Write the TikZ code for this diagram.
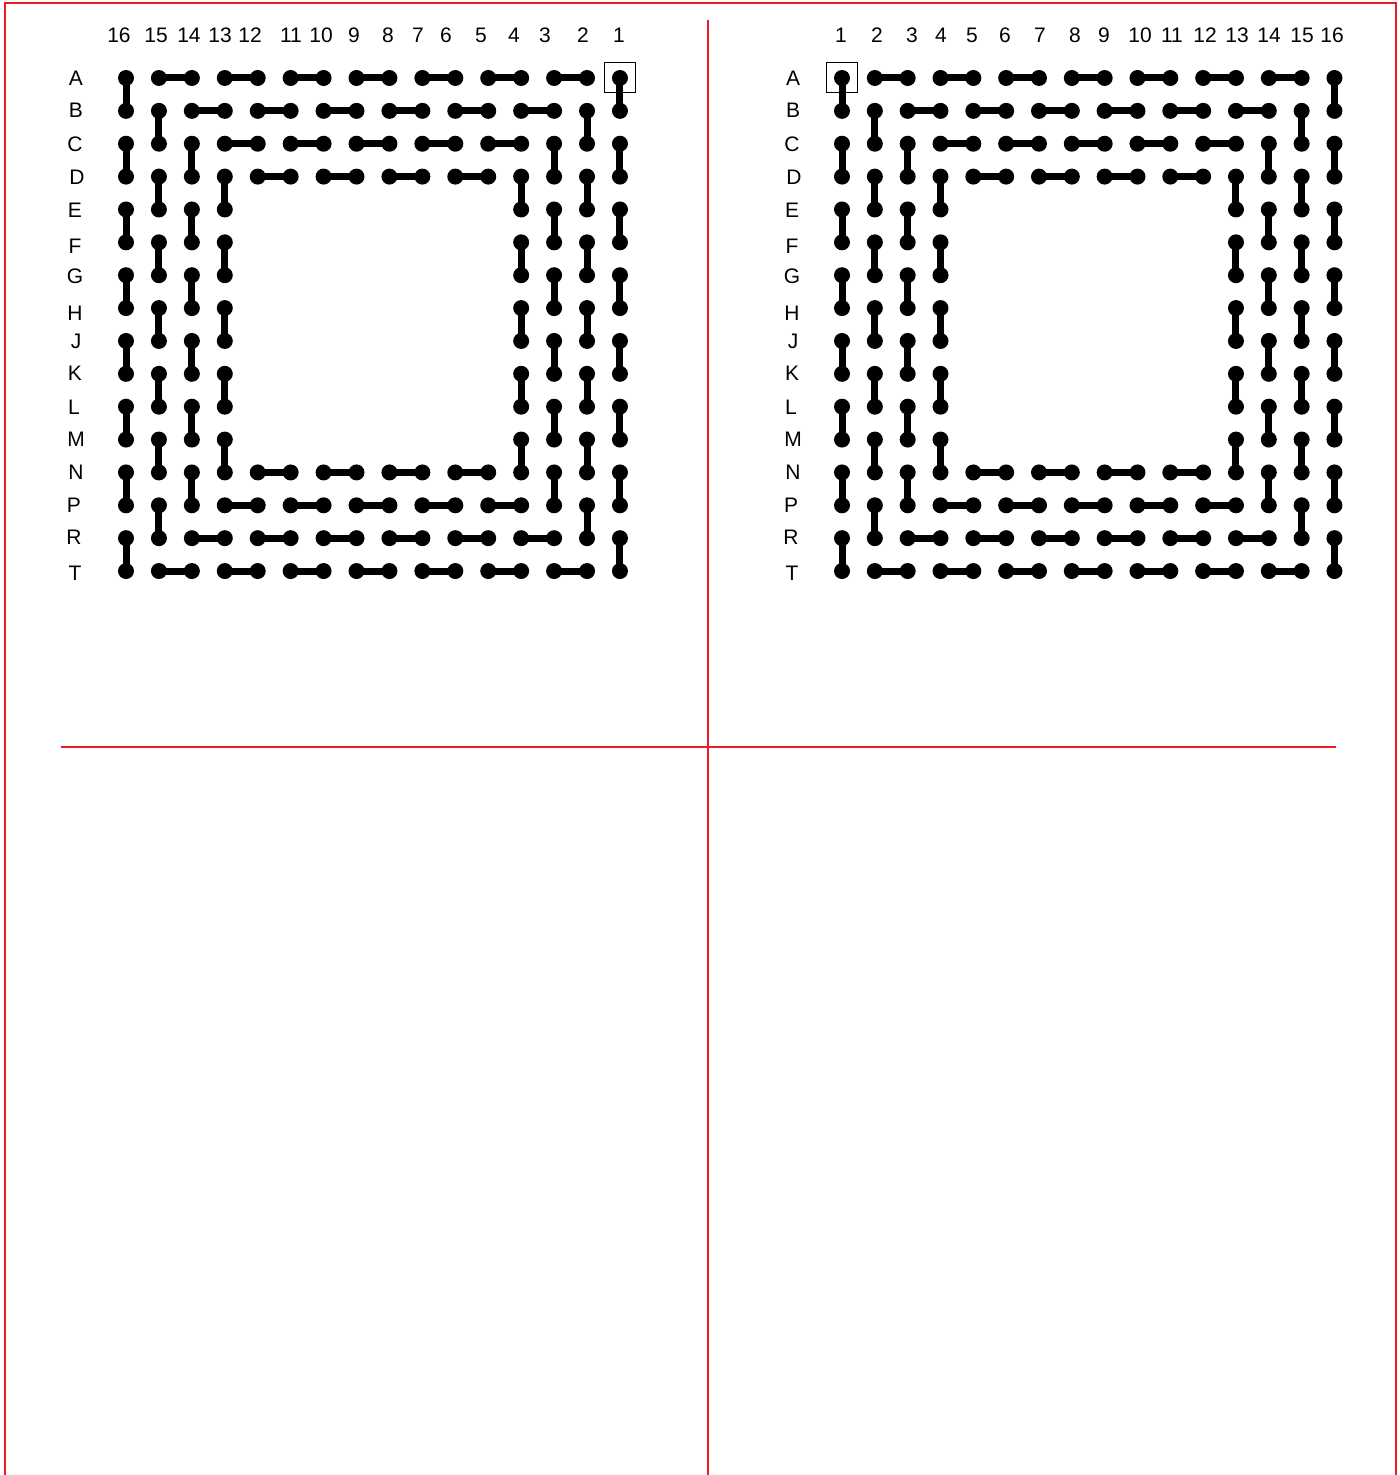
\documentclass[tikz,border=0pt]{standalone}
\usepackage{fontspec}
\setmainfont{Liberation Sans}
\definecolor{framered}{RGB}{237,28,36}
\tikzset{
  ball/.style={circle,fill=black,inner sep=0pt,minimum size=8pt},
  link/.style={line width=3.5pt,black},
  lbl/.style={font=\fontsize{10.5}{12}\selectfont,inner sep=0pt,anchor=center},
  redline/.style={draw=framered,line width=1.1pt},
  redmid/.style={draw=framered,line width=1.35pt},
  hlbox/.style={draw=black,line width=0.5pt,minimum width=15.5pt,minimum height=15pt,inner sep=0pt},
}
% prefix, x0, dx, r1, c1, r2, c2
\newcommand\mkpair[7]{%
  \node[ball] (#1-#4-#5) at ({#2+#3*#5},{78+32.87*#4}) {};
  \node[ball] (#1-#6-#7) at ({#2+#3*#7},{78+32.87*#6}) {};
  \draw[link] (#1-#4-#5.center) -- (#1-#6-#7.center);
}
% prefix, x0, dx
\newcommand\mkpanel[3]{%
  \foreach \rk in {0,...,3}{
    \pgfmathtruncatemacro\nv{7-\rk}
    \pgfmathtruncatemacro\rkk{15-\rk}
    \pgfmathtruncatemacro\nh{6-\rk}
    \foreach \j in {0,...,\nv}{
      \pgfmathtruncatemacro\pA{\rk+2*\j}
      \pgfmathtruncatemacro\pB{\pA+1}
      \mkpair{#1}{#2}{#3}{\pA}{\rk}{\pB}{\rk}
      \mkpair{#1}{#2}{#3}{\pA}{\rkk}{\pB}{\rkk}
    }
    \foreach \j in {0,...,\nh}{
      \pgfmathtruncatemacro\pA{\rk+1+2*\j}
      \pgfmathtruncatemacro\pB{\pA+1}
      \mkpair{#1}{#2}{#3}{\rk}{\pA}{\rk}{\pB}
      \mkpair{#1}{#2}{#3}{\rkk}{\pA}{\rkk}{\pB}
    }
  }
}
\begin{document}
\begin{tikzpicture}[x=0.5pt,y=-0.5pt]
\useasboundingbox (0,0) rectangle (1399,1475);
% red frame and dividers
\draw[redline] (5,1475) -- (5,3) -- (1396,3) -- (1396,1475);
\draw[redline] (708,20) -- (708,1475);
\draw[redmid] (61,747) -- (1336,747);
% panels
\mkpanel{L}{126}{32.93}
\mkpanel{R}{842}{32.83}
% highlighted pins
\node[hlbox] (boxL) at (L-0-15) {};
\node[hlbox] (boxR) at (R-0-0) {};
% column labels
\foreach \t/\x in {16/119,15/156,14/189,13/220,12/250,11/291,10/321,9/354,8/388,7/418,6/446,5/481,4/514,3/545,2/583,1/619}
  \node[lbl] (lc\t) at (\x,35) {\t};
\foreach \t/\x in {1/841,2/877,3/912,4/941,5/972,6/1005,7/1040,8/1075,9/1104,10/1140,11/1172,12/1205,13/1237,14/1269,15/1302,16/1332}
  \node[lbl] (rc\t) at (\x,35) {\t};
% row labels
\foreach \t/\x/\y in {A/76/78,B/76/110,C/75/144,D/77/177,E/75/210,F/75/246,G/75/276,H/75/313,J/76/341,K/75/373,L/74/407,M/76/439,N/76/472,P/74/505,R/74/537,T/75/573}{
  \node[lbl] (lr\t) at (\x,\y) {\t};
  \node[lbl] (rr\t) at (\x+717,\y) {\t};
}
\end{tikzpicture}
\end{document}
